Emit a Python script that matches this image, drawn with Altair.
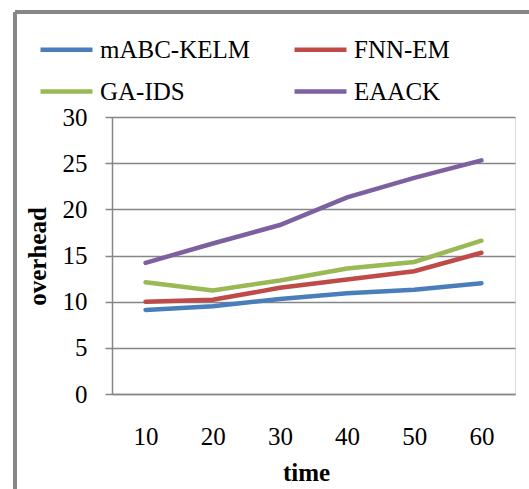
import altair as alt
import pandas as pd

time = [10, 20, 30, 40, 50, 60]
mabc_kelm = [9.1, 9.5, 10.3, 10.9, 11.3, 12.0]
fnn_em = [10.0, 10.2, 11.5, 12.4, 13.3, 15.3]
ga_ids = [12.1, 11.2, 12.3, 13.6, 14.3, 16.6]
eaack = [14.2, 16.3, 18.3, 21.3, 23.4, 25.3]

series_names = ["mABC-KELM", "FNN-EM", "GA-IDS", "EAACK"]
series_vals = [mabc_kelm, fnn_em, ga_ids, eaack]
colors = ["#4A7EBB", "#BE4B48", "#98B954", "#7D60A0"]

# legend is filled column by column, so order entries to read row-wise as in the reference
legend_order = [0, 2, 1, 3]
dom = [series_names[i] for i in legend_order]
rng = [colors[i] for i in legend_order]

rows = []
for name, vals in zip(series_names, series_vals):
    for t, v in zip(time, vals):
        rows.append({"time": t, "overhead": v, "series": name})
df = pd.DataFrame(rows)

FONT = "Times New Roman"
GRAY = "#868686"

lines = alt.Chart(df).mark_line(strokeWidth=4.5, strokeCap="round").encode(
    x=alt.X("time:O", scale=alt.Scale(type="point", padding=0.5),
            axis=alt.Axis(title="time", labelAngle=0, ticks=False, labelPadding=30,
                          labelFontSize=25, labelFont=FONT, labelColor="black",
                          titleFont=FONT, titleFontSize=25, titleFontWeight="bold",
                          titleColor="black", titleX=194, titleY=86,
                          titleBaseline="alphabetic", titleAlign="center",
                          domainColor=GRAY, domainWidth=1.5, grid=False)),
    y=alt.Y("overhead:Q", scale=alt.Scale(domain=[0, 30], nice=False),
            axis=alt.Axis(title="overhead", values=[0, 5, 10, 15, 20, 25, 30],
                          tickSize=7, tickColor=GRAY, tickWidth=1.5, labelPadding=18,
                          labelFontSize=25, labelFont=FONT, labelColor="black",
                          titleFont=FONT, titleFontSize=25, titleFontWeight="bold",
                          titleColor="black", titleAngle=270, titleX=-67, titleY=139,
                          titleBaseline="alphabetic", titleAlign="center",
                          domainColor=GRAY, domainWidth=1.5,
                          grid=True, gridColor=GRAY, gridWidth=1.5)),
    color=alt.Color("series:N", scale=alt.Scale(domain=dom, range=rng),
                    legend=alt.Legend(title=None, orient="none", legendX=-74, legendY=-96,
                                      columns=2, symbolType="stroke", symbolSize=2700,
                                      symbolStrokeWidth=4.5, labelFont=FONT,
                                      labelFontSize=25, labelColor="black",
                                      labelOffset=5, columnPadding=35, rowPadding=-9,
                                      labelLimit=400)),
)

frame_left = alt.Chart(df).mark_rule(color=GRAY, strokeWidth=2.5).encode(
    x=alt.value(-97), y=alt.value(-105), y2=alt.value(420))
frame_top = alt.Chart(df).mark_rule(color=GRAY, strokeWidth=2.5).encode(
    x=alt.value(-97), x2=alt.value(430), y=alt.value(-105))

chart = alt.layer(frame_left, frame_top, lines).properties(
    width=403, height=277,
    autosize=alt.AutoSizeParams(type="none"),
    padding={"left": 112, "top": 117, "right": 14, "bottom": 95},
).configure_view(stroke=None).configure(background="white", font=FONT)

chart.save("out.html", embed_options={"renderer": "svg", "actions": False})
